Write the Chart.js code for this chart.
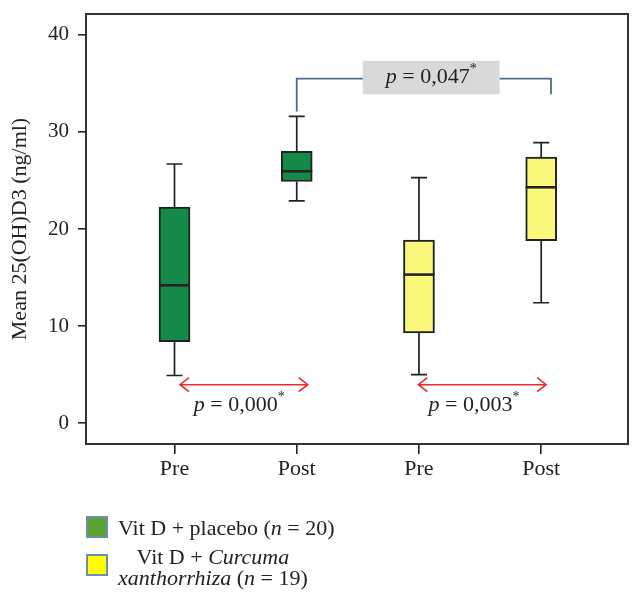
<!DOCTYPE html>
<html><head><meta charset="utf-8">
<script src="https://cdn.jsdelivr.net/npm/chart.js@4/dist/chart.umd.min.js"></script>
<style>
html,body{margin:0;padding:0;background:#fff;}
#wrap{position:relative;width:643px;height:603px;}
canvas{position:absolute;left:0;top:0;}
.leg{position:absolute;font-family:'Liberation Serif',serif;font-size:22px;color:#222;white-space:nowrap;}
.sw{position:absolute;width:18px;height:18px;border:2px solid #6d8db0;}
</style></head><body>
<div id="wrap"><canvas id="c" width="643" height="603"></canvas>
<div class="sw" style="left:86px;top:516px;background:#5aa331"></div>
<div class="leg" style="left:118px;top:515px;line-height:25px;">Vit D + placebo (<i>n</i> = 20)</div>
<div class="sw" style="left:86px;top:554px;background:#ffff00"></div>
<div class="leg" style="left:118px;top:546px;line-height:21px;text-align:center;">Vit D + <i>Curcuma</i><br><i>xanthorrhiza</i> (<i>n</i> = 19)</div>
</div>
<script>
// ---- data ----
const categories = ['Pre', 'Post', 'Pre', 'Post'];
const groupOf = [0, 0, 1, 1];
const groups = ['Vit D + placebo', 'Vit D + Curcuma xanthorrhiza'];
const whiskerLow = [4.9, 22.9, 5.0, 12.4];
const q1 = [8.4, 24.9, 9.3, 18.8];
const median = [14.2, 25.95, 15.3, 24.3];
const q3 = [22.25, 28.0, 18.85, 27.4];
const whiskerHigh = [26.7, 31.6, 25.3, 28.9];
const yTicks = [0, 10, 20, 30, 40];
const pWithin = ['0,000', '0,003'];
const pBetween = '0,047';

const FONT = "'Liberation Serif', 'Times New Roman', serif";
const boxFill = ['#138a47', '#faf87a'];

const datasets = groups.map((g, gi) => ({
  label: g,
  data: categories.map((c, i) => i).filter(i => groupOf[i] === gi).map(i => ({x: i, y: [q1[i], q3[i]]})),
  backgroundColor: boxFill[gi],
  borderColor: '#222',
  borderWidth: 2,
  borderSkipped: false,
  barThickness: 31,
  grouped: false
}));

function richP(ctx, cx, cy, val) {
  const segs = [
    {t: 'p', f: 'italic 22px ' + FONT, dy: 0},
    {t: ' = ' + val, f: '22px ' + FONT, dy: 0},
    {t: '*', f: '14px ' + FONT, dy: -8}
  ];
  let w = 0;
  segs.forEach(s => { ctx.font = s.f; s.w = ctx.measureText(s.t).width; w += s.w; });
  let x = cx - w / 2;
  ctx.fillStyle = '#222';
  ctx.textBaseline = 'middle';
  ctx.textAlign = 'left';
  segs.forEach(s => { ctx.font = s.f; ctx.fillText(s.t, x, cy + s.dy); x += s.w; });
}

function arrow(ctx, x1, x2, y) {
  ctx.save();
  ctx.strokeStyle = '#ee2a2e';
  ctx.lineWidth = 1.6;
  ctx.beginPath();
  ctx.moveTo(x1, y); ctx.lineTo(x2, y);
  ctx.moveTo(x1 + 9, y - 7); ctx.lineTo(x1, y); ctx.lineTo(x1 + 9, y + 7);
  ctx.moveTo(x2 - 9, y - 7); ctx.lineTo(x2, y); ctx.lineTo(x2 - 9, y + 7);
  ctx.stroke();
  ctx.restore();
}

const boxPlugin = {
  id: 'boxextras',
  afterDatasetsDraw(chart) {
    const ctx = chart.ctx, xs = chart.scales.x, ys = chart.scales.y;
    const a = chart.chartArea;
    ctx.save();
    ctx.strokeStyle = '#222';
    categories.forEach((c, i) => {
      const px = xs.getPixelForValue(i);
      ctx.lineWidth = 1.7;
      ctx.beginPath();
      ctx.moveTo(px, ys.getPixelForValue(q3[i])); ctx.lineTo(px, ys.getPixelForValue(whiskerHigh[i]));
      ctx.moveTo(px, ys.getPixelForValue(q1[i])); ctx.lineTo(px, ys.getPixelForValue(whiskerLow[i]));
      ctx.moveTo(px - 8, ys.getPixelForValue(whiskerHigh[i])); ctx.lineTo(px + 8, ys.getPixelForValue(whiskerHigh[i]));
      ctx.moveTo(px - 8, ys.getPixelForValue(whiskerLow[i])); ctx.lineTo(px + 8, ys.getPixelForValue(whiskerLow[i]));
      ctx.stroke();
      ctx.lineWidth = 2.6;
      ctx.beginPath();
      ctx.moveTo(px - 15.5, ys.getPixelForValue(median[i])); ctx.lineTo(px + 15.5, ys.getPixelForValue(median[i]));
      ctx.stroke();
    });
    arrow(ctx, xs.getPixelForValue(0.045), xs.getPixelForValue(1.09), ys.getPixelForValue(3.95));
    arrow(ctx, xs.getPixelForValue(1.995), xs.getPixelForValue(3.04), ys.getPixelForValue(3.95));
    richP(ctx, xs.getPixelForValue(0.53), ys.getPixelForValue(1.85), pWithin[0]);
    richP(ctx, xs.getPixelForValue(2.45), ys.getPixelForValue(1.85), pWithin[1]);
    ctx.strokeStyle = '#4e6b8e';
    ctx.lineWidth = 1.8;
    const bx1 = xs.getPixelForValue(1), bx2 = xs.getPixelForValue(3.08);
    const by = ys.getPixelForValue(35.5);
    ctx.beginPath();
    ctx.moveTo(bx1, ys.getPixelForValue(32.1)); ctx.lineTo(bx1, by); ctx.lineTo(bx2, by); ctx.lineTo(bx2, ys.getPixelForValue(33.9));
    ctx.stroke();
    const gx1 = xs.getPixelForValue(1.54), gx2 = xs.getPixelForValue(2.66);
    const gy1 = ys.getPixelForValue(37.34), gy2 = ys.getPixelForValue(33.88);
    ctx.fillStyle = '#d9d9d9';
    ctx.fillRect(gx1, gy1, gx2 - gx1, gy2 - gy1);
    richP(ctx, (gx1 + gx2) / 2, (gy1 + gy2) / 2, pBetween);
    ctx.strokeStyle = '#333';
    ctx.lineWidth = 2;
    ctx.strokeRect(a.left, a.top, a.right - a.left, a.bottom - a.top);
    ctx.restore();
  }
};

new Chart(document.getElementById('c'), {
  type: 'bar',
  data: {datasets},
  plugins: [boxPlugin],
  options: {
    responsive: false,
    devicePixelRatio: 1,
    animation: false,
    layout: {padding: {top: 14, right: 15, left: 0, bottom: 0}},
    plugins: {legend: {display: false}, tooltip: {enabled: false}},
    scales: {
      x: {
        type: 'linear',
        offset: false,
        min: -0.724,
        max: 3.71,
        afterBuildTicks: s => { s.ticks = categories.map((c, i) => ({value: i})); },
        afterFit: s => { s.height = 159; s.paddingLeft = 0; s.paddingRight = 0; },
        ticks: {
          callback: v => categories[v],
          font: {family: FONT, size: 22},
          color: '#222',
          padding: 2,
          maxRotation: 0,
          autoSkip: false
        },
        grid: {offset: false, drawOnChartArea: false, drawTicks: true, tickLength: 10, color: '#222', lineWidth: 1.6},
        border: {display: false}
      },
      y: {
        min: -2.16,
        max: 42.16,
        afterBuildTicks: s => { s.ticks = yTicks.map(v => ({value: v})); },
        afterFit: s => { s.width = 86; s.paddingTop = 0; s.paddingBottom = 0; },
        ticks: {
          font: {family: FONT, size: 21},
          color: '#222',
          padding: 9
        },
        grid: {drawOnChartArea: false, drawTicks: true, tickLength: 8, color: '#222', lineWidth: 1.6},
        border: {display: false},
        title: {
          display: true,
          text: 'Mean 25(OH)D3 (ng/ml)',
          font: {family: FONT, size: 22},
          color: '#222',
          padding: {top: 7, bottom: 0}
        }
      }
    }
  }
});
</script>
</body></html>
